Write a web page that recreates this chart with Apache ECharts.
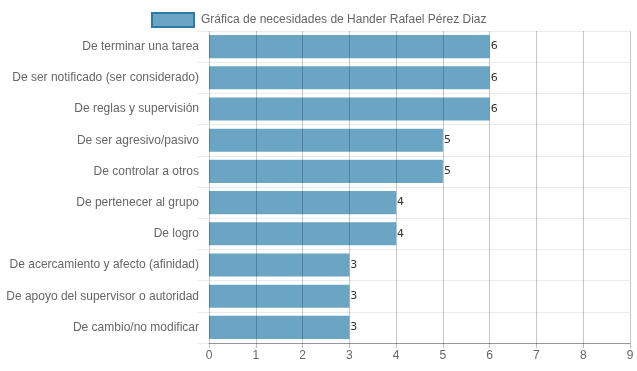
<!DOCTYPE html>
<html><head><meta charset="utf-8">
<script src="https://cdn.jsdelivr.net/npm/echarts@6/dist/echarts.min.js"></script>
<style>html,body{margin:0;padding:0;background:#fff}#c{width:637px;height:371px}</style>
</head><body><div id="c"></div>
<script>
const seriesName = 'Gráfica de necesidades de Hander Rafael Pérez Diaz';
const categories = [
  'De terminar una tarea',
  'De ser notificado (ser considerado)',
  'De reglas y supervisión',
  'De ser agresivo/pasivo',
  'De controlar a otros',
  'De pertenecer al grupo',
  'De logro',
  'De acercamiento y afecto (afinidad)',
  'De apoyo del supervisor o autoridad',
  'De cambio/no modificar'
];
const values = [6, 6, 6, 5, 5, 4, 4, 3, 3, 3];
const xTicks = [0, 9, 1]; // min, max, interval

const chart = echarts.init(document.getElementById('c'), null, {renderer: 'canvas'});
chart.setOption({
  animation: false,
  textStyle: {fontFamily: '"Liberation Sans", Arial, sans-serif'},
  legend: {
    top: 7, left: 146,
    itemWidth: 42, itemHeight: 14, itemGap: 10,
    textStyle: {color: '#666', fontSize: 12, padding: [0, 0, 0, 2]},
    data: [{name: seriesName, icon: 'rect', itemStyle: {color: '#6aa6c4', borderColor: '#2d7ba6', borderWidth: 2}}]
  },
  grid: {left: 209, right: 7, top: 31, bottom: 28, containLabel: false},
  xAxis: {
    type: 'value', min: xTicks[0], max: xTicks[1], interval: xTicks[2],
    z: 5,
    axisLine: {show: true, lineStyle: {color: '#999'}},
    axisTick: {show: true, length: 5, lineStyle: {color: 'rgba(0,0,0,0.25)'}},
    axisLabel: {color: '#666', fontSize: 12, margin: 7},
    splitLine: {show: true, lineStyle: {color: 'rgba(0,0,0,0.22)'}}
  },
  yAxis: {
    type: 'category', data: categories, inverse: true,
    axisLine: {show: false},
    axisTick: {show: true, length: 12, lineStyle: {color: '#ebebeb'}},
    axisLabel: {color: '#666', fontSize: 12, margin: 10},
    splitLine: {show: true, lineStyle: {color: '#ebebeb'}}
  },
  series: [{
    name: seriesName, type: 'bar', data: values,
    barCategoryGap: '26%',
    itemStyle: {color: '#6aa6c4'},
    label: {show: true, position: 'right', distance: 1, color: '#333', fontSize: 11, fontFamily: '"DejaVu Sans", sans-serif'}
  }]
});
</script></body></html>
